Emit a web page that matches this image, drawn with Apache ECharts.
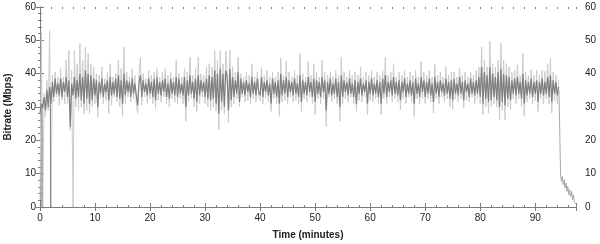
<!DOCTYPE html>
<html><head><meta charset="utf-8">
<script src="https://cdn.jsdelivr.net/npm/echarts@6/dist/echarts.min.js"></script>
<style>html,body{margin:0;padding:0;background:#fff}#c{width:600px;height:244px}</style>
</head><body><div id="c"></div>
<script>
// Light envelope of the per-second bitrate (Mbps), one reading every 0.25 min from t=0
const envelopeStep = 0.25;
const envelopeRate = [
  2, 52, 0, 34, 27, 38, 29, 53, 0, 39.5, 31.5, 40.5, 33, 39, 30.5, 41.5, 32, 39, 31, 44,
  31, 47, 23, 41, 0, 47, 30, 43, 29, 49, 30, 44, 28, 48, 29, 46, 28, 43, 30, 42,
  31, 40, 27, 39.5, 32.5, 42, 31, 38.5, 32, 40.5, 28, 43, 30.5, 39, 33, 40, 31.5, 44, 30, 41.5,
  27, 48, 31, 40.5, 33, 39, 31.5, 41.5, 32.5, 39.5, 31, 28, 40, 45, 30.5, 40, 33, 38.5, 31, 41,
  32.5, 39.5, 31, 40.5, 29.5, 41.5, 32, 39, 31.5, 40.5, 33, 41.5, 31, 39.5, 30, 40.5, 32.5, 39, 31.5, 44,
  31, 40, 32.5, 39, 31, 41.5, 25.7, 40.5, 31.5, 45, 32.5, 39.5, 30, 41.5, 28.7, 45, 31, 40, 33, 39.5,
  31, 42, 30, 43, 29, 42, 30, 47, 28.7, 44, 23.2, 47, 29, 43, 28, 46.7, 41, 25.2, 47, 30,
  42, 31, 40.5, 32.5, 45, 30, 40, 33, 39, 31.5, 40.5, 32, 39.5, 31, 43, 32.5, 39, 31.5, 40.5, 33,
  32, 42, 31, 39.5, 32.5, 41, 31.5, 39, 28.7, 40.5, 32.5, 39, 31, 40.5, 27.2, 44.7, 31.5, 39.5, 32, 43.7,
  31, 40.5, 33, 39, 31.5, 41, 32, 39.5, 31, 46, 28.7, 40, 32.5, 39, 31.5, 43.7, 33, 39.5, 31, 43,
  27.7, 40.5, 32.5, 39, 31, 44, 32.5, 40.5, 24.2, 39.5, 33, 40.5, 31.5, 39, 32.5, 41, 31, 39.5, 25.7, 45,
  31, 40.5, 32.5, 39, 31.5, 41, 33, 39.5, 31, 40.5, 28.7, 39.5, 32, 42, 31.5, 39, 33, 40.5, 27.7, 39.5,
  32, 41, 31.5, 39, 32.5, 40.5, 31, 39.5, 27.7, 41, 32.5, 45, 31, 39.5, 33, 40.5, 31.5, 43, 32.5, 39,
  31.5, 40.5, 29.2, 39.5, 32.5, 41, 31, 39, 33, 40.5, 31.5, 39.5, 27.2, 41, 32.5, 39, 31, 43.7, 32.5, 40.5,
  31, 39.5, 32.5, 41, 31.5, 39, 28.2, 42.7, 32.5, 39.5, 31, 40.5, 33, 39, 31.5, 42, 32.5, 39.5, 30, 40.5,
  29.2, 40.5, 32.5, 39, 31.5, 41.7, 32.5, 39.5, 29.7, 40.5, 32, 39, 31.5, 40.5, 33, 39.5, 31, 41, 32.5, 42,
  31, 48, 27.7, 44, 30, 42, 28.2, 49.7, 30, 43, 31, 42, 30, 44, 26.2, 49.2, 29, 44, 26.2, 43,
  30, 42, 29.2, 40.5, 32.5, 41, 31, 42.7, 32.5, 39.5, 30, 46.2, 27.2, 40.5, 31.5, 39.5, 32.5, 41.2, 31, 39.5,
  32, 41, 28.7, 39.5, 32.5, 41, 31, 40.7, 32.5, 43, 31, 44.7, 28.2, 40.5, 32, 39.5, 31, 38
];
// Dense core of the trace, one reading every 0.25 min from t=0
const coreStep = 0.25;
const coreRate = [
  28, 31, 30, 33, 29, 35, 30, 36, 31, 37.5, 33, 38.5, 34, 37, 33.5, 38.5, 33, 37.5, 34.5, 39,
  33, 38, 24, 37, 33.5, 39, 32.5, 38, 33, 40, 32, 39, 31, 41, 32.5, 40, 31, 39.5, 32, 38.5,
  33.5, 38, 30, 37.5, 34, 38.5, 33, 37, 34.5, 38, 32, 39, 33.5, 37.5, 34, 38.5, 33, 39.5, 32.5, 38,
  31, 40, 33.5, 38, 34.5, 37.5, 33, 38.5, 34, 37, 33.5, 30.5, 37.5, 39.5, 33, 38, 34.5, 37, 33.5, 38.5,
  34, 37.5, 33, 38.5, 32, 39, 34, 37.5, 33.5, 38, 34.5, 38.5, 33, 37, 32.5, 38.5, 34, 37.5, 33.5, 39,
  33, 38.5, 34, 37, 33.5, 39, 30, 38, 33.5, 39.5, 34, 37.5, 32.5, 38.5, 31.5, 39.5, 33.5, 38, 34.5, 37.5,
  33, 38.5, 32.5, 39.5, 32, 39, 32.5, 41, 31, 40, 28, 41.5, 31.5, 40, 30, 41, 39, 29, 41.5, 32,
  39, 33, 38, 34, 40.5, 31.5, 38.5, 34, 37.5, 33.5, 38, 34.5, 37, 33, 39, 34, 37.5, 33.5, 38.5, 34.5,
  33.5, 39, 33, 37.5, 34.5, 38, 33.5, 37, 31, 38.5, 34, 37.5, 33, 38, 31, 40, 33.5, 38, 34, 39,
  33, 38, 34.5, 37.5, 33.5, 38.5, 34, 37, 33, 39.5, 31.5, 38, 34, 37.5, 33.5, 39, 34.5, 37.5, 33, 38.5,
  31.5, 38, 34, 37.5, 33, 39, 34.5, 38, 29, 37.5, 34, 38.5, 33.5, 37, 34, 38.5, 33, 37.5, 30, 39.5,
  33, 38, 34.5, 37.5, 33.5, 38.5, 34, 37, 33, 38, 31, 37.5, 34, 38.5, 33.5, 37, 34.5, 38, 31, 37.5,
  34, 38.5, 33.5, 37, 34, 38, 33, 37.5, 31, 38.5, 34, 39.5, 33, 37.5, 34.5, 38, 33.5, 39, 34, 37.5,
  33.5, 38, 32, 37.5, 34.5, 38.5, 33, 37, 34, 38, 33.5, 37.5, 31, 38.5, 34, 37, 33, 39, 34.5, 38,
  33, 37.5, 34, 38.5, 33.5, 37, 31.5, 39, 34, 37.5, 33, 38, 34.5, 37, 33.5, 38.5, 34, 37.5, 32.5, 38,
  32, 38.5, 34, 37, 33.5, 39, 34, 37.5, 32, 38, 34.5, 37, 33, 38.5, 34, 37.5, 33.5, 38, 34, 39,
  33, 42, 31, 40.5, 32.5, 39.5, 31.5, 42, 32, 40, 33, 39, 32, 40.5, 30, 41.5, 31.5, 40, 30.5, 39.5,
  32.5, 39, 32, 38, 34, 38.5, 33.5, 39, 34, 37.5, 32.5, 40, 31, 38, 33.5, 37.5, 34, 38.5, 33, 37.5,
  34, 38, 31.5, 37.5, 34, 38.5, 33.5, 37.5, 34, 39, 33, 39.5, 31.5, 38, 34, 37.5, 33.5, 36
];
// Short dropouts to zero near the start
const dropTime = [0.35, 1.9];
const dropFrom = [30, 35];
// End of the stream
const tailTime = [94.3, 94.6, 94.75, 94.9, 95.1, 95.25, 95.4, 95.6, 95.75, 95.9, 96.1, 96.25, 96.4, 96.6, 96.75, 96.9, 97.1, 97.3];
const tailRate = [35, 9.7, 7.7, 9.2, 6.7, 8.2, 5.7, 7.2, 4.7, 6.2, 3.7, 5.2, 3.2, 4.7, 2.2, 3.7, 1.7, 1.0];

const xMax = 97.4;
const font = 'Liberation Sans, Arial, sans-serif';
const axisCol = '#7d7d7d';
const txtCol = '#222';

const envData = envelopeRate.map((v, i) => [i * envelopeStep, v]);
const coreData = coreRate.map((v, i) => [i * coreStep, v]);
const tailData = tailTime.map((t, i) => [t, tailRate[i]]);

function xAxisDef(pos, showLabel, major) {
  return {
    type: 'value', gridIndex: 0, position: pos, min: 0, max: xMax,
    interval: major ? 10 : 2,
    axisLine: { show: major, lineStyle: { color: axisCol, width: 1 } },
    axisTick: { show: true, inside: true, length: major ? 4 : 2, lineStyle: { color: axisCol } },
    axisLabel: { show: showLabel, margin: 6, color: txtCol, fontSize: 10, fontFamily: font,
      formatter: v => (v % 10 === 0 ? String(v) : '') },
    splitLine: { show: false }
  };
}
function yAxisDef(pos, margin) {
  return {
    type: 'value', position: pos, min: 0, max: 60, interval: 10,
    axisLine: { show: true, lineStyle: { color: axisCol, width: 1 } },
    axisTick: { show: true, inside: true, length: 4, lineStyle: { color: axisCol } },
    minorTick: { show: true, splitNumber: 5, length: 2, lineStyle: { color: axisCol } },
    axisLabel: { show: true, margin: margin, color: txtCol, fontSize: 10, fontFamily: font },
    splitLine: { show: false }
  };
}

const xBottom = xAxisDef('bottom', true, true);
xBottom.name = 'Time (minutes)';
xBottom.nameLocation = 'middle';
xBottom.nameGap = 23;
xBottom.nameTextStyle = { fontWeight: 'bold', fontSize: 10, color: txtCol, fontFamily: font };
const yLeft = yAxisDef('left', 4);
yLeft.name = 'Bitrate (Mbps)';
yLeft.nameLocation = 'middle';
yLeft.nameGap = 27;
yLeft.nameTextStyle = { fontWeight: 'bold', fontSize: 10, color: txtCol, fontFamily: font };

const series = [
  { type: 'line', xAxisIndex: 0, yAxisIndex: 0, data: envData, showSymbol: false, symbol: 'none',
    sampling: null, lineStyle: { color: '#cbcbcb', width: 1 }, z: 2, silent: true },
  { type: 'line', xAxisIndex: 0, yAxisIndex: 0, data: coreData, showSymbol: false, symbol: 'none',
    sampling: null, lineStyle: { color: '#7f7f7f', width: 1.2 }, z: 3, silent: true },
  { type: 'line', xAxisIndex: 0, yAxisIndex: 0, data: tailData, showSymbol: false, symbol: 'none',
    lineStyle: { color: '#a8a8a8', width: 1 }, z: 3, silent: true }
];
dropTime.forEach((t, i) => series.push({
  type: 'line', xAxisIndex: 0, yAxisIndex: 0, data: [[t, dropFrom[i]], [t, 0]], showSymbol: false, symbol: 'none',
  lineStyle: { color: '#858585', width: 1 }, z: 4, silent: true
}));

const chart = echarts.init(document.getElementById('c'), null, { renderer: 'canvas' });
chart.setOption({
  animation: false,
  backgroundColor: '#fff',
  grid: { left: 40, right: 24, top: 7, bottom: 37, containLabel: false, outerBoundsMode: 'none' },
  xAxis: [xBottom, xAxisDef('top', false, true), xAxisDef('bottom', false, false), xAxisDef('top', false, false)],
  yAxis: [yLeft, yAxisDef('right', 9)],
  series: series
});
</script></body></html>
